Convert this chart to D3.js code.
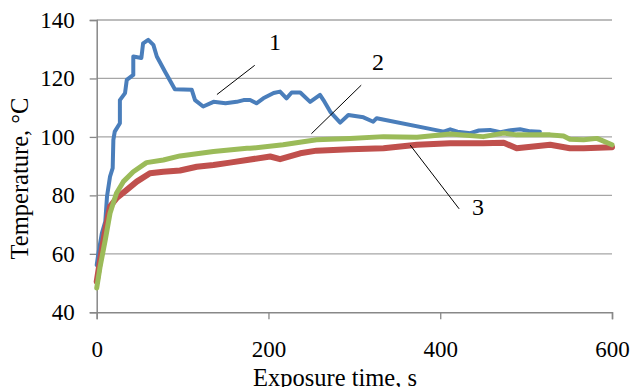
<!DOCTYPE html>
<html><head><meta charset="utf-8">
<script src="https://cdn.jsdelivr.net/npm/d3@7"></script>
</head><body style="margin:0;background:#fff"><svg id="c" width="631" height="387" style="display:block"></svg>
<script>
const xTicks = [0, 200, 400, 600];
const yTicks = [40, 60, 80, 100, 120, 140];
const xTitle = "Exposure time, s";
const yTitle = "Temperature, °C";

const s1Time = [0,2,6,10,12,15.5,18.6,19.4,21,27,27,33,35,42.6,42.6,52,54,60,66,70,79.6,91,110.7,114.5,124,136,150,163,171,178.6,186,194,206,213.5,221,227,237,248.5,260,264,272,283.5,293,310.6,322,326,404,411.6,420,435,445,458,470,482,493,505,516];
const s1Temp = [56.2,60.2,67,71,79.6,86.4,89.3,99,101.8,104.7,112.6,115,119.5,121.2,127.5,127,132,133.2,131.5,127.5,122.3,116.3,116.1,112.6,110.4,112,111.5,112,112.6,112.6,111.5,113.2,115,115.5,113.2,115.2,115.2,112,114.4,112.6,108.6,104.9,107.5,106.7,105.2,106.4,101.8,102.6,101.8,101.3,102.2,102.4,101.6,102.3,102.6,101.9,101.8];

const s2Time = [0,4,10,15.5,23,31,42.6,58,77.6,97,136,175,178.6,217,256,295,334,373,411.6,450,474,489,528,543.6,551,567,582.5,600];
const s2Temp = [48.3,55.7,64.8,73.9,80.7,84.7,88.1,91.2,92.1,93.5,95,96.1,96.1,97.3,99,99.5,100.1,99.9,101,100.1,101.3,100.7,100.7,100.3,99.2,99,99.5,97.3];

const s3Time = [0,4,10,15.5,23,35,46.6,62,77.6,97,116.5,136,155,175,202,213.5,237,256,295,334,373,411.6,450,474,489,528,551,567,600];
const s3Temp = [50.5,58,68.2,76.2,79,81.9,84.7,87.6,88.1,88.5,89.8,90.4,91.2,92.1,93.3,92.4,94.4,95.3,95.8,96.1,97.3,97.8,97.8,98,96.1,97.3,96.1,96.1,96.5];

const labels = ["1", "2", "3"];
const labelAt = [[275, 50], [378, 70], [478, 215]];   // text baseline positions in px

const svg = d3.select("#c");
const m = {l: 96.7, r: 612, t: 20, b: 312.3};
const x = d3.scaleLinear().domain([0, 600]).range([m.l, m.r]);
const y = d3.scaleLinear().domain([40, 140]).range([m.b, m.t]);

function serif(sel, size) { return sel.style("font-family", '"Liberation Serif"').attr("font-size", size).attr("fill", "#000"); }

// gridlines
svg.append("g").selectAll("line").data(yTicks.slice(1)).join("line")
  .attr("x1", m.l).attr("x2", m.r).attr("y1", d => y(d)).attr("y2", d => y(d))
  .attr("stroke", "#a6a6a6").attr("stroke-width", 1.3);

// axes
const gx = svg.append("g").attr("transform", `translate(0,${m.b})`)
  .call(d3.axisBottom(x).tickValues(xTicks).tickSize(7).tickPadding(21).tickFormat(d3.format("d")));
const gy = svg.append("g").attr("transform", `translate(${m.l},0)`)
  .call(d3.axisLeft(y).tickValues(yTicks).tickSize(7).tickPadding(15).tickFormat(d3.format("d")));
[gx, gy].forEach(g => {
  g.attr("font-family", null).attr("font-size", null);
  g.select(".domain").attr("stroke", "#888").attr("stroke-width", 1.5);
  g.selectAll(".tick line").attr("stroke", "#888").attr("stroke-width", 1.3);
  serif(g.selectAll("text"), 23);
});

serif(svg.append("text").attr("x", 335).attr("y", 386).attr("text-anchor", "middle"), 24.5).text(xTitle);
serif(svg.append("text").attr("transform", "translate(28,178.5) rotate(-90)").attr("text-anchor", "middle"), 24.5).text(yTitle);

const line = d3.line().x(d => x(d[0])).y(d => y(d[1]));
const series = [
  {t: s1Time, v: s1Temp, c: "#4a7ebb", w: 4},
  {t: s3Time, v: s3Temp, c: "#c0504d", w: 6},
  {t: s2Time, v: s2Temp, c: "#9bbb59", w: 5}
];
series.forEach(s => {
  svg.append("path").datum(s.t.map((t, i) => [t, s.v[i]]))
    .attr("d", line).attr("fill", "none").attr("stroke", s.c)
    .attr("stroke-width", s.w).attr("stroke-linejoin", "round").attr("stroke-linecap", "round");
});

// annotation leaders
const leaders = [[[140, 114.5], [184, 124.5]], [[250, 101.1], [308, 117.7]], [[365, 97.2], [422, 75.4]]];
leaders.forEach(l => {
  svg.append("line").attr("x1", x(l[0][0])).attr("y1", y(l[0][1])).attr("x2", x(l[1][0])).attr("y2", y(l[1][1]))
    .attr("stroke", "#000").attr("stroke-width", 1);
});
labels.forEach((t, i) => {
  serif(svg.append("text").attr("x", labelAt[i][0]).attr("y", labelAt[i][1]).attr("text-anchor", "middle"), 24).text(t);
});
</script></body></html>
